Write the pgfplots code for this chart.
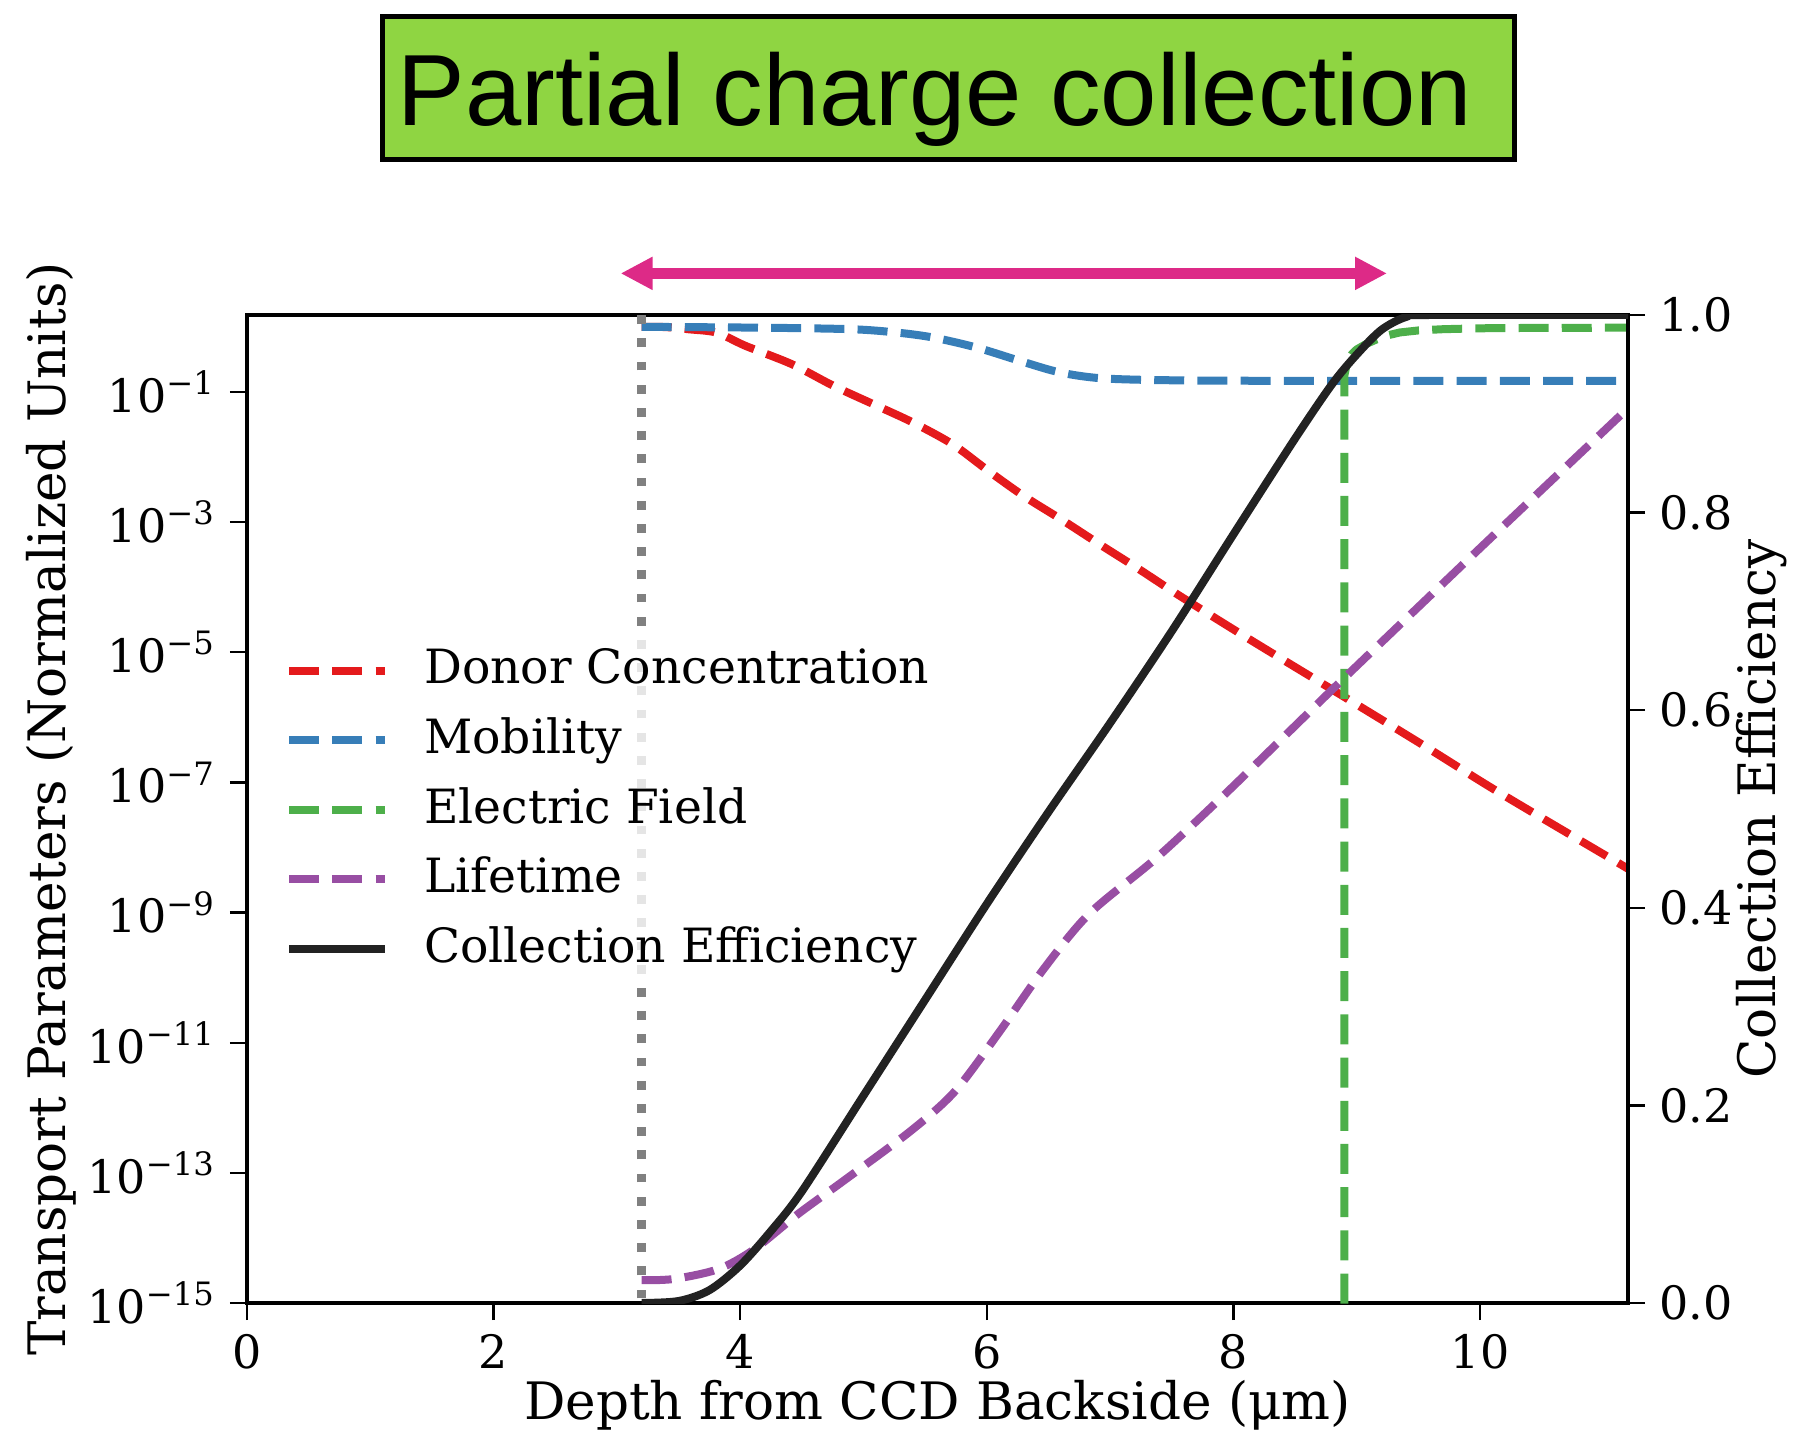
\documentclass[border=0pt]{standalone}
\usepackage{fontspec}
\setmainfont{DejaVu Serif}
\newfontfamily\titlefont{Liberation Sans}
\usepackage{pgfplots}
\pgfplotsset{compat=1.18}
\usetikzlibrary{arrows.meta}
\definecolor{cred}{HTML}{E41A1C}
\definecolor{cblue}{HTML}{377EB8}
\definecolor{cgreen}{HTML}{4DAF4A}
\definecolor{cpurple}{HTML}{984EA3}
\definecolor{cblack}{HTML}{222222}
\definecolor{cgray}{HTML}{808080}
\definecolor{titlegreen}{RGB}{143,213,66}
\definecolor{cpink}{HTML}{DD2A87}
\tikzset{
  dashed curve/.style={line width=2pt, dash pattern=on 7.5pt off 3.3pt, line join=round},
}
\pgfplotsset{
  common/.style={
    at={(61.75pt,32.5pt)}, anchor=south west,
    scale only axis, width=345.25pt, height=247pt,
    xmin=0, xmax=11.2,
    tick align=outside,
    major tick length=4.25pt,
    every tick/.style={black, line width=0.6pt},
    axis line style={line width=0.8pt},
    tick label style={font=\fontsize{11.5}{13}\selectfont},
    label style={font=\fontsize{12.9}{15}\selectfont},
    /pgf/number format/assume math mode=true,
  }
}
\begin{document}
\begin{tikzpicture}
\path[use as bounding box] (0,0) rectangle (448.5pt,358.25pt);

% title box
\node[draw=black, line width=1.25pt, fill=titlegreen, minimum width=283pt, minimum height=35.75pt, inner sep=0pt] at (237.125pt,336.25pt) {};
\node[anchor=base west, inner sep=0pt, font=\titlefont\fontsize{25.3}{30}\selectfont] at (99.25pt,326.75pt) {Partial charge collection};

% arrow
\draw[cpink, line width=2.75pt, {Triangle[length=8pt,width=7.75pt]}-{Triangle[length=8pt,width=7.75pt]}] (155.15pt,289.9pt) -- (346.75pt,289.9pt);

\begin{axis}[common,
  ymode=log, ymin=1e-15, ymax=1.52,
  xtick={0,2,4,6,8,10},
  ytick={1e-15,1e-13,1e-11,1e-9,1e-7,1e-5,1e-3,1e-1},
  yticklabels={10\textsuperscript{−15},10\textsuperscript{−13},10\textsuperscript{−11},10\textsuperscript{−9},10\textsuperscript{−7},10\textsuperscript{−5},10\textsuperscript{−3},10\textsuperscript{−1}},
  yminorticks=false,
  tick pos=left,
  xlabel={Depth from CCD Backside (μm)},
  ylabel={Transport Parameters (Normalized Units)},
  xlabel style={at={(axis description cs:0.5,-0.1174)}, anchor=base},
  ylabel style={at={(axis description cs:-0.142,0.5)}, anchor=center},
]
% Donor concentration
\addplot[cred, dashed curve, smooth] coordinates {
(3.2,1.0) (3.4,0.99) (3.58,0.918) (3.81,0.813) (4.04,0.513) (4.42,0.266) (4.76,0.123)
(5.11,0.0610) (5.40,0.0339) (5.72,0.0158) (6.01,6.17e-3) (6.30,2.51e-3) (6.62,1.05e-3)
(6.93,4.37e-4) (7.23,1.91e-4) (7.57,7.24e-5) (8.13,1.58e-5) (8.78,2.82e-6) (9.54,3.72e-7)
(10.15,7.08e-8) (11.14,5.50e-9) (11.2,4.68e-9)};
% Mobility
\addplot[cblue, dashed curve, smooth] coordinates {
(3.2,1.0) (4.18,0.97) (4.91,0.918) (5.28,0.813) (5.57,0.682) (5.92,0.479) (6.27,0.299)
(6.59,0.20) (6.93,0.162) (7.49,0.151) (8.5,0.148) (11.2,0.1476)};
% Electric field
\addplot[cgreen, dashed curve] coordinates {
(8.9,1e-17) (8.9,0.18) (8.92,0.28) (8.96,0.38) (9.0,0.45) (9.08,0.55) (9.16,0.64)
(9.25,0.74) (9.35,0.82) (9.5,0.88) (9.7,0.92) (10.0,0.95) (10.5,0.965) (11.2,0.97)};
% Lifetime
\addplot[cpurple, dashed curve, smooth] coordinates {
(3.2,2.24e-15) (3.46,2.34e-15) (3.82,3.31e-15) (4.11,6.61e-15) (4.47,2.34e-14) (4.84,7.59e-14)
(5.38,4.37e-13) (5.74,1.78e-12) (6.10,1.45e-11) (6.46,1.35e-10) (6.83,9.55e-10) (7.37,6.76e-9)
(7.91,6.03e-8) (8.56,9.55e-7) (8.94,4.79e-6) (10.0,3.98e-4) (11.2,5.62e-2)};
% boundary marker
\addplot[cgray, line width=2.2pt, dash pattern=on 2.2pt off 3.6pt] coordinates {(3.2,1e-16) (3.2,10)};
\end{axis}

\begin{axis}[common,
  ymin=0, ymax=1,
  axis x line=none, axis y line*=right,
  ytick={0,0.2,0.4,0.6,0.8,1.0},
  yticklabels={0.0,0.2,0.4,0.6,0.8,1.0},
  ylabel={Collection Efficiency},
  ylabel style={at={(axis description cs:1.097,0.5)}, anchor=center, rotate=0},
  legend image code/.code={\draw[#1] (0pt,0pt) -- (24pt,0pt);},
  legend cell align=left,
  legend style={at={(axis description cs:0.0271,0.6761)}, anchor=north west,
    draw=none, fill=white, fill opacity=0.8, text opacity=1,
    font=\fontsize{11.8}{14}\selectfont,
    inner xsep=0pt, inner ysep=0pt, row sep=0pt, column sep=8.75pt,
    nodes={inner sep=0pt, text height=12pt, text depth=5.4pt}},
]
\addlegendimage{cred, dashed curve}
\addlegendentry{Donor Concentration}
\addlegendimage{cblue, dashed curve}
\addlegendentry{Mobility}
\addlegendimage{cgreen, dashed curve}
\addlegendentry{Electric Field}
\addlegendimage{cpurple, dashed curve}
\addlegendentry{Lifetime}
\addplot[cblack, line width=2pt, smooth, line join=round] coordinates {
(3.2,0.0) (3.5,0.002) (3.75,0.013) (4.0,0.038) (4.25,0.073) (4.5,0.113) (5.0,0.21)
(5.5,0.307) (6.0,0.404) (6.5,0.497) (7.0,0.587) (7.5,0.68) (8.0,0.778) (8.5,0.875)
(8.8,0.93) (9.0,0.96) (9.2,0.985) (9.4,0.998) (9.6,1.0) (11.2,1.0)};
\addlegendentry{Collection Efficiency}
\end{axis}
\end{tikzpicture}
\end{document}
